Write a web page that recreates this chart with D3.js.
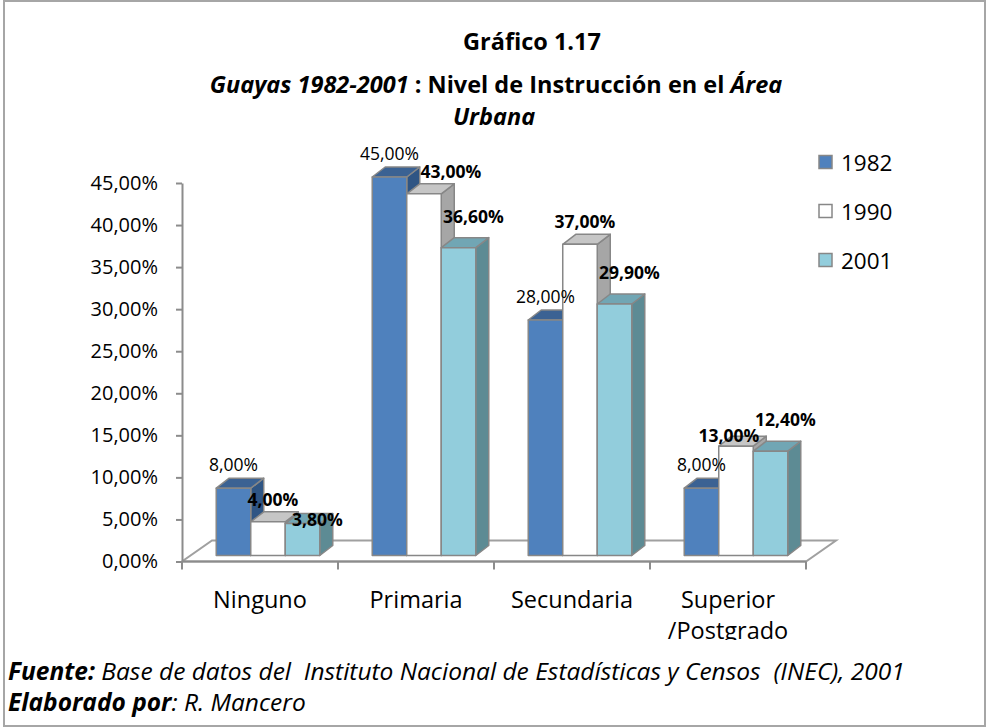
<!DOCTYPE html>
<html>
<head>
<meta charset="utf-8">
<script src="https://cdn.jsdelivr.net/npm/d3@7"></script>
<style>
  body { margin: 0; background: #fff; }
  svg { font-family: "Open Sans", "Noto Sans", sans-serif; }
</style>
</head>
<body>
<div id="chart"></div>
<script>
// data
var categories = ["Ninguno", "Primaria", "Secundaria", "Superior /Postgrado"];
var series = ["1982", "1990", "2001"];
var values1982 = [8.0, 45.0, 28.0, 8.0];
var values1990 = [4.0, 43.0, 37.0, 13.0];
var values2001 = [3.8, 36.6, 29.9, 12.4];
var yTicks = [0, 5, 10, 15, 20, 25, 30, 35, 40, 45];

var seriesValues = { "1982": values1982, "1990": values1990, "2001": values2001 };

var width = 988, height = 727;
var margin = { top: 183, right: 182, bottom: 165, left: 182 };

var colors = {
  "1982": { front: "#4f81bd", top: "#3b6293", side: "#2f5584" },
  "1990": { front: "#ffffff", top: "#c6c6c6", side: "#a6a6a6" },
  "2001": { front: "#92cddc", top: "#71a6b4", side: "#5d8b94" }
};
// label offsets for each series, plus a few hand nudges like in the original
var labelOffset = { "1982": [0, -14], "1990": [5, -13], "2001": [15, -22] };
var labelNudge = { "1990|Primaria": [22, 0], "1990|Superior /Postgrado": [-12, 12], "2001|Ninguno": [0, 27] };

var svg = d3.select("#chart")
  .append("svg")
  .attr("width", width)
  .attr("height", height);

// outer frame
svg.append("rect")
  .attr("x", 4).attr("y", 1)
  .attr("width", 981).attr("height", 725)
  .attr("fill", "none")
  .attr("stroke", "#a6a6a6")
  .attr("stroke-width", 2);

// title
var title = svg.append("text")
  .attr("text-anchor", "middle")
  .style("font-weight", "bold")
  .style("font-size", "23.5px");
title.append("tspan").attr("x", 532).attr("y", 50).text("Gráfico 1.17");
var t2 = title.append("tspan").attr("x", 496).attr("y", 93);
t2.append("tspan").style("font-style", "italic").text("Guayas 1982-2001");
t2.append("tspan").text(" : Nivel de Instrucción en el ");
t2.append("tspan").style("font-style", "italic").text("Área");
title.append("tspan").attr("x", 494).attr("y", 125).style("font-style", "italic").text("Urbana");

// scales
var x = d3.scaleBand()
  .domain(categories)
  .range([margin.left, width - margin.right])
  .padding(0);

var x1 = d3.scaleBand()
  .domain(series)
  .range([0, x.bandwidth()])
  .paddingInner(0)
  .paddingOuter(0.76);

var y = d3.scaleLinear()
  .domain([0, 45])
  .range([height - margin.bottom - 0.5, margin.top]);

// depth of floor and bars
var floorDx = 30, floorDy = -21;
var barDx = 13, barDy = -10;
var frontDx = 8, frontDy = -6;

var x0 = x.range()[0], xEnd = x.range()[1], y0 = y(0);

// floor
svg.append("path")
  .attr("d", "M" + x0 + "," + y0 + "L" + xEnd + "," + y0 +
    "L" + (xEnd + floorDx) + "," + (y0 + floorDy) +
    "L" + (x0 + floorDx) + "," + (y0 + floorDy) + "Z")
  .attr("fill", "#fff")
  .attr("stroke", "#a0a0a0")
  .attr("stroke-width", 2);

// y axis
var yAxis = d3.axisLeft(y)
  .tickValues(yTicks)
  .tickSizeInner(6)
  .tickSizeOuter(0)
  .tickPadding(18)
  .tickFormat(function (d) { return d3.format(".2f")(d).replace(".", ",") + "%"; });

var gy = svg.append("g")
  .attr("transform", "translate(" + x0 + ",0)")
  .call(yAxis);
gy.selectAll("path, line").attr("stroke", "#8c8c8c").attr("stroke-width", 2);
gy.selectAll("text")
  .style("font-size", "20px")
  .style("font-family", "'Open Sans', 'Noto Sans', sans-serif")
  .attr("fill", "#000");

// x axis ticks at band edges
var edges = categories.map(function (c) { return x(c); }).concat([xEnd]);
svg.append("line")
  .attr("x1", x0).attr("x2", xEnd)
  .attr("y1", y0).attr("y2", y0)
  .attr("stroke", "#8c8c8c").attr("stroke-width", 2);
svg.append("g")
  .selectAll("line")
  .data(edges)
  .enter()
  .append("line")
  .attr("x1", function (d) { return d; })
  .attr("x2", function (d) { return d; })
  .attr("y1", y0)
  .attr("y2", y0 + 8)
  .attr("stroke", "#8c8c8c")
  .attr("stroke-width", 2);

// category labels
svg.append("clipPath").attr("id", "plotclip")
  .append("rect").attr("x", 0).attr("y", 0).attr("width", width).attr("height", 640);

var catLabels = svg.append("g")
  .attr("clip-path", "url(#plotclip)")
  .selectAll("text")
  .data(categories)
  .enter()
  .append("text")
  .attr("text-anchor", "middle")
  .style("font-size", "23.5px");
catLabels.each(function (c) {
  var lines = c.split(" ");
  var t = d3.select(this);
  lines.forEach(function (l, i) {
    t.append("tspan")
      .attr("x", x(c) + x.bandwidth() / 2)
      .attr("y", 608 + i * 31)
      .text(l);
  });
});

// bars
var bars = [];
categories.forEach(function (c, ci) {
  series.forEach(function (s) {
    bars.push({ category: c, series: s, value: seriesValues[s][ci] });
  });
});

function barGeom(d) {
  var bx = x(d.category) + x1(d.series) + frontDx;
  var bw = x1.bandwidth();
  var yb = y(0) + frontDy;
  var yt = y(d.value) + frontDy;
  return { x: bx, w: bw, yb: yb, yt: yt };
}

var barG = svg.append("g")
  .selectAll("g")
  .data(bars)
  .enter()
  .append("g");

barG.append("path")
  .attr("d", function (d) {
    var g = barGeom(d);
    var xr = g.x + g.w;
    return "M" + xr + "," + g.yt + "L" + (xr + barDx) + "," + (g.yt + barDy) +
      "L" + (xr + barDx) + "," + (g.yb + barDy) + "L" + xr + "," + g.yb + "Z";
  })
  .attr("fill", function (d) { return colors[d.series].side; });

barG.append("path")
  .attr("d", function (d) {
    var g = barGeom(d);
    return "M" + g.x + "," + g.yt + "L" + (g.x + barDx) + "," + (g.yt + barDy) +
      "L" + (g.x + g.w + barDx) + "," + (g.yt + barDy) + "L" + (g.x + g.w) + "," + g.yt + "Z";
  })
  .attr("fill", function (d) { return colors[d.series].top; });

barG.append("rect")
  .attr("x", function (d) { return barGeom(d).x; })
  .attr("y", function (d) { return barGeom(d).yt; })
  .attr("width", x1.bandwidth())
  .attr("height", function (d) { var g = barGeom(d); return g.yb - g.yt; })
  .attr("fill", function (d) { return colors[d.series].front; });

barG.selectAll("path, rect")
  .attr("stroke", "#878787")
  .attr("stroke-width", 1.5)
  .attr("stroke-linejoin", "round");

// data labels
svg.append("g")
  .selectAll("text")
  .data(bars)
  .enter()
  .append("text")
  .attr("text-anchor", "middle")
  .attr("dominant-baseline", "central")
  .style("font-size", "17.5px")
  .style("font-weight", function (d) { return d.series === "1982" ? "normal" : "bold"; })
  .attr("x", function (d) {
    var g = barGeom(d);
    var n = labelNudge[d.series + "|" + d.category] || [0, 0];
    return g.x + g.w / 2 + labelOffset[d.series][0] + n[0];
  })
  .attr("y", function (d) {
    var g = barGeom(d);
    var n = labelNudge[d.series + "|" + d.category] || [0, 0];
    return g.yt + barDy + labelOffset[d.series][1] + n[1];
  })
  .text(function (d) { return d3.format(".2f")(d.value).replace(".", ",") + "%"; });

// legend
var legend = svg.append("g")
  .selectAll("g")
  .data(series)
  .enter()
  .append("g")
  .attr("transform", function (d, i) { return "translate(819," + (162 + i * 49) + ")"; });
legend.append("rect")
  .attr("x", 0).attr("y", -6.5)
  .attr("width", 13).attr("height", 13)
  .attr("fill", function (d) { return colors[d].front; })
  .attr("stroke", "#878787")
  .attr("stroke-width", 1.5);
legend.append("text")
  .attr("x", 22)
  .attr("dominant-baseline", "central")
  .style("font-size", "22.5px")
  .text(function (d) { return d; });

// footer
var f1 = svg.append("text").attr("x", 8).attr("y", 680)
  .style("font-size", "24.5px").style("font-style", "italic")
  .style("white-space", "pre");
f1.append("tspan").style("font-weight", "bold").text("Fuente:");
f1.append("tspan").text(" Base de datos del  Instituto Nacional de Estadísticas y Censos  (INEC), 2001");
var f2 = svg.append("text").attr("x", 8).attr("y", 711)
  .style("font-size", "24.5px").style("font-style", "italic");
f2.append("tspan").style("font-weight", "bold").text("Elaborado por");
f2.append("tspan").text(": R. Mancero");
</script>
</body>
</html>
